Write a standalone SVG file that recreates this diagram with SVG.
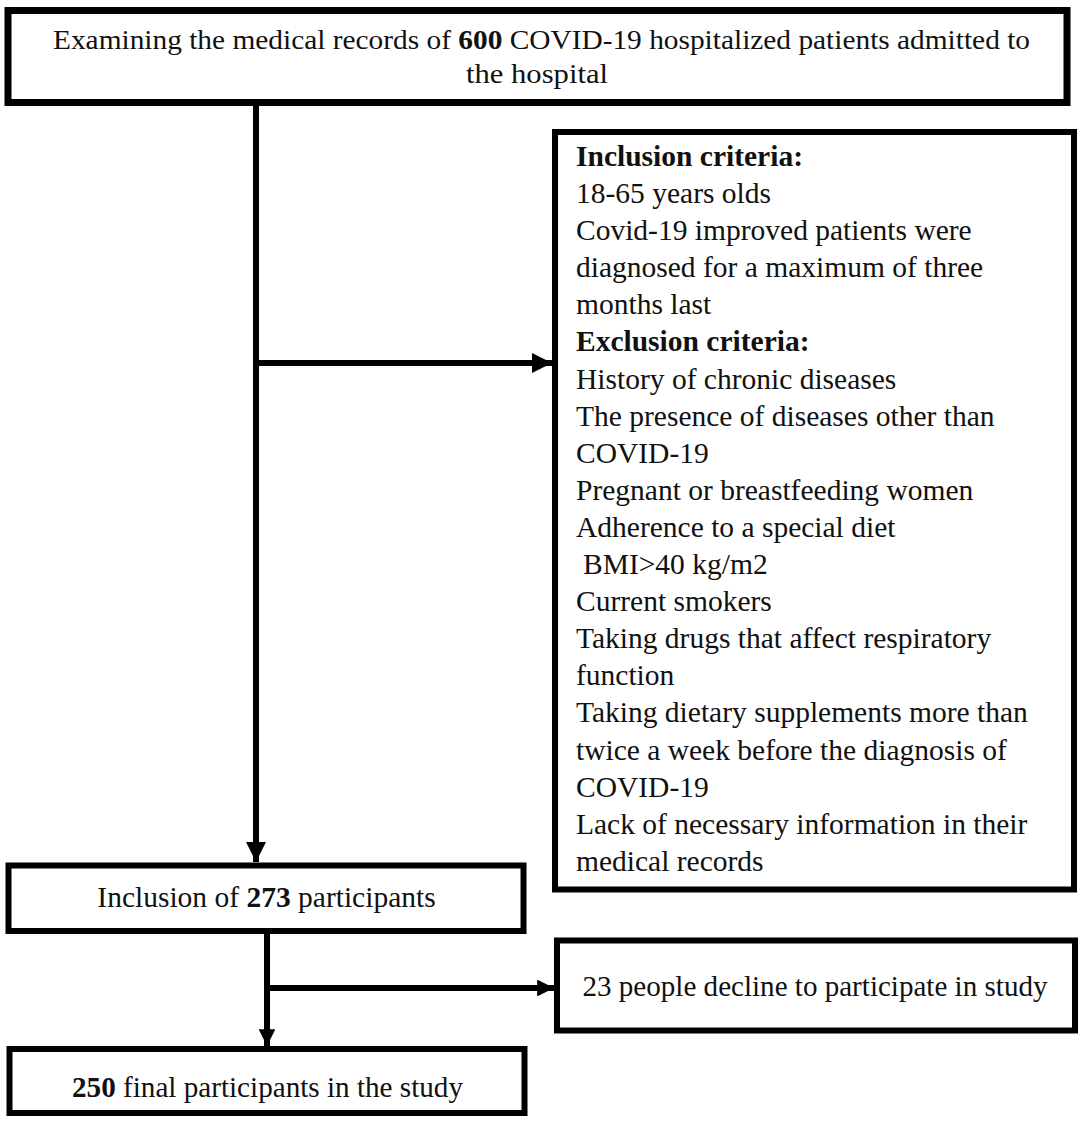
<svg xmlns="http://www.w3.org/2000/svg" width="1084" height="1124" viewBox="0 0 1084 1124">
<style>
.box{fill:#fff;stroke:#000;stroke-width:6}
.t{font-family:"Liberation Serif","Times New Roman",serif;font-size:29.5px;fill:#111}
.c{text-anchor:middle}
.b{font-weight:bold}
.ln{stroke:#000;stroke-width:6;fill:none}
</style>
<defs>
<marker id="ah" viewBox="0 0 10 10" refX="10" refY="5" markerWidth="3.4" markerHeight="3.4" orient="auto" markerUnits="strokeWidth">
<path d="M0,0 L10,5 L0,10 Z" fill="#000"/>
</marker>
<marker id="ah2" viewBox="0 0 10 10" refX="10" refY="5" markerWidth="2.8" markerHeight="2.8" orient="auto" markerUnits="strokeWidth">
<path d="M0,0 L10,5 L0,10 Z" fill="#000"/>
</marker>
</defs>
<rect width="1084" height="1124" fill="#fff"/>
<g id="connectors">
<line class="ln" x1="256" y1="106" x2="256" y2="862" marker-end="url(#ah)"/>
<line class="ln" x1="256" y1="363" x2="552" y2="363" marker-end="url(#ah)"/>
<line class="ln" x1="267" y1="934" x2="267" y2="1046" marker-end="url(#ah2)"/>
<line class="ln" x1="267" y1="988" x2="554" y2="988" marker-end="url(#ah2)"/>
</g>
<g id="node-top">
<rect class="box" x="8" y="10.5" width="1059" height="92" style="stroke-width:7"/>
<text class="t c" x="541.5" y="49" style="font-size:27px" textLength="977" lengthAdjust="spacingAndGlyphs">Examining the medical records of <tspan class="b">600</tspan> COVID-19 hospitalized patients admitted to</text>
<text class="t c" x="537" y="83" style="font-size:27px" textLength="142" lengthAdjust="spacingAndGlyphs">the hospital</text>
</g>
<g id="node-criteria">
<rect class="box" x="555" y="132" width="519" height="757.5"/>
<text class="t b" x="576" y="166">Inclusion criteria:</text>
<text class="t" x="576" y="203">18-65 years olds</text>
<text class="t" x="576" y="240">Covid-19 improved patients were</text>
<text class="t" x="576" y="277">diagnosed for a maximum of three</text>
<text class="t" x="576" y="314">months last</text>
<text class="t b" x="576" y="351">Exclusion criteria:</text>
<text class="t" x="576" y="389">History of chronic diseases</text>
<text class="t" x="576" y="426">The presence of diseases other than</text>
<text class="t" x="576" y="463">COVID-19</text>
<text class="t" x="576" y="500">Pregnant or breastfeeding women</text>
<text class="t" x="576" y="537">Adherence to a special diet</text>
<text class="t" x="583" y="574">BMI&gt;40 kg/m2</text>
<text class="t" x="576" y="611">Current smokers</text>
<text class="t" x="576" y="648">Taking drugs that affect respiratory</text>
<text class="t" x="576" y="685">function</text>
<text class="t" x="576" y="722">Taking dietary supplements more than</text>
<text class="t" x="576" y="760">twice a week before the diagnosis of</text>
<text class="t" x="576" y="797">COVID-19</text>
<text class="t" x="576" y="834">Lack of necessary information in their</text>
<text class="t" x="576" y="871">medical records</text>
</g>
<g id="node-inclusion">
<rect class="box" x="8.5" y="865.5" width="515" height="65.5"/>
<text class="t c" x="266.5" y="907">Inclusion of <tspan class="b">273</tspan> participants</text>
</g>
<g id="node-decline">
<rect class="box" x="557" y="940.5" width="518" height="90"/>
<text class="t c" x="815" y="996" textLength="465" lengthAdjust="spacingAndGlyphs">23 people decline to participate in study</text>
</g>
<g id="node-final">
<rect class="box" x="9.5" y="1049" width="515" height="64"/>
<text class="t c" x="267.5" y="1097" textLength="391" lengthAdjust="spacingAndGlyphs"><tspan class="b">250</tspan> final participants in the study</text>
</g>
</svg>
